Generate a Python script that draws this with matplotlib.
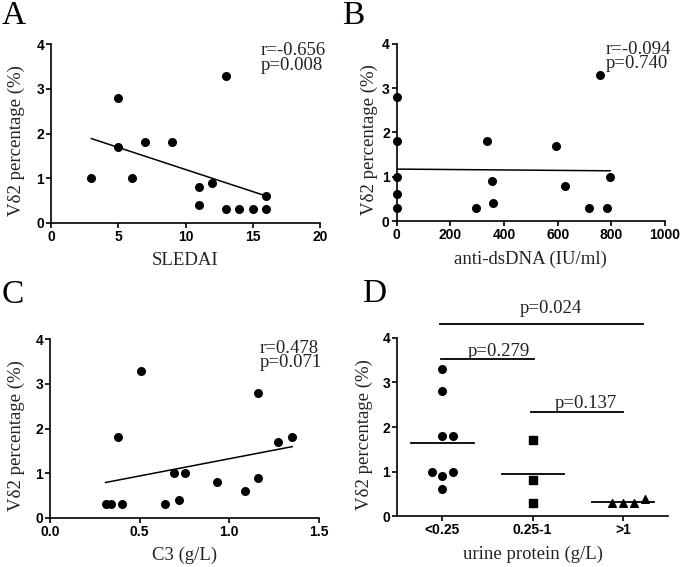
import numpy as np
import matplotlib
matplotlib.use("Agg")
from matplotlib import pyplot as plt

# panel A: SLEDAI vs Vd2 percentage
sledai = [3, 5, 5, 6, 7, 9, 11, 11, 12, 13, 13, 14, 15, 16, 16]
vd2_a = [1.0, 2.8, 1.7, 1.0, 1.8, 1.8, 0.8, 0.4, 0.9, 3.3, 0.3, 0.3, 0.3, 0.6, 0.3]

# panel B: anti-dsDNA vs Vd2 percentage
dsdna = [0, 0, 0, 0, 0, 295, 338, 357, 360, 593, 627, 715, 757, 785, 795]
vd2_b = [2.8, 1.8, 1.0, 0.6, 0.3, 0.3, 1.8, 0.9, 0.4, 1.7, 0.8, 0.3, 3.3, 0.3, 1.0]

# panel C: C3 vs Vd2 percentage
c3 = [0.31, 0.34, 0.38, 0.40, 0.51, 0.64, 0.69, 0.72, 0.75, 0.93, 1.09, 1.16, 1.16, 1.27, 1.35]
vd2_c = [0.3, 0.3, 1.8, 0.3, 3.3, 0.3, 1.0, 0.4, 1.0, 0.8, 0.6, 2.8, 0.9, 1.7, 1.8]

# panel D: urine protein groups
groups = ["<0.25", "0.25-1", ">1"]
grp_low = [3.3, 2.8, 1.8, 1.8, 1.0, 0.9, 1.0, 0.6]
grp_mid = [1.7, 0.8, 0.3]
grp_high = [0.3, 0.3, 0.3, 0.38]
stats_r = ["r=-0.656", "r=-0.094", "r=0.478"]
stats_p = ["p=0.008", "p=0.740", "p=0.071"]
pair_labels = ["p=0.024", "p=0.279", "p=0.137"]

SANS = ["Liberation Sans", "DejaVu Sans"]
SERIF = ["Liberation Serif", "DejaVu Serif"]
TXT = "#222222"

fig = plt.figure(figsize=(6.85, 5.67), dpi=100)
axA = fig.add_axes([0.0745, 0.6072, 0.3927, 0.3146])
axB = fig.add_axes([0.5791, 0.6102, 0.3917, 0.3127])
axC = fig.add_axes([0.0730, 0.0869, 0.3927, 0.3146])
axD = fig.add_axes([0.5800, 0.0899, 0.3952, 0.3140])


def style(ax, xlabel, ylab_x):
    for s in ["top", "right"]:
        ax.spines[s].set_visible(False)
    for s in ["left", "bottom"]:
        ax.spines[s].set_linewidth(1.2)
    ax.tick_params(length=3.5, width=1.2, pad=1.5)
    ax.set_ylim(0, 4)
    ax.set_yticks([0, 1, 2, 3, 4])
    ax.set_xlabel(xlabel, family=SERIF, fontsize=13.5, color=TXT, labelpad=6)
    ax.set_ylabel("V\u03b42 percentage (%)", family=SERIF, fontsize=13.5, color=TXT)
    ax.yaxis.set_label_coords(ylab_x, 0.46)


def scatter_panel(ax, x, y, xlim, xticks, xticklabels, xlabel, r, p, ty, ylab_x):
    ax.set_xlim(*xlim)
    ax.set_xticks(xticks)
    ax.set_xticklabels(xticklabels)
    ax.scatter(x, y, s=30, color="black", zorder=3, clip_on=False)
    k, b = np.polyfit(x, y, 1)
    xs = np.array([min(x), max(x)])
    ax.plot(xs, k * xs + b, color="black", lw=1.1)
    style(ax, xlabel, ylab_x)
    ax.text(0.78, ty, r + "\n" + p, transform=ax.transAxes, family=SERIF,
            fontsize=13.5, color=TXT, ha="left", va="baseline", linespacing=0.8)


scatter_panel(axA, sledai, vd2_a, (0, 20), [0, 5, 10, 15, 20],
              ["0", "5", "10", "15", "20"], "SLEDAI", stats_r[0], stats_p[0], 0.858, -0.095)
scatter_panel(axB, dsdna, vd2_b, (0, 1000), [0, 200, 400, 600, 800, 1000],
              ["0", "200", "400", "600", "800", "1000"], "anti-dsDNA (IU/ml)",
              stats_r[1], stats_p[1], 0.861, -0.07)
scatter_panel(axC, c3, vd2_c, (0, 1.5), [0, 0.5, 1.0, 1.5],
              ["0.0", "0.5", "1.0", "1.5"], "C3 (g/L)", stats_r[2], stats_p[2], 0.843, -0.093)

# panel D
offsets = [[0, 0, 0, 0.12, -0.12, 0, 0.12, 0], [0, 0, 0], [-0.12, 0, 0.12, 0.24]]
markers = ["o", "s", "^"]
for i, vals in enumerate([grp_low, grp_mid, grp_high]):
    xs = np.full(len(vals), i) + np.array(offsets[i])
    axD.scatter(xs, vals, s=30, marker=markers[i], color="black", zorder=3, clip_on=False)
    m = np.mean(vals)
    axD.plot([i - 0.345, i + 0.345], [m, m], color="black", lw=1.3)
axD.set_xlim(-0.5, 2.5)
axD.set_xticks(range(len(groups)))
axD.set_xticklabels(groups)
style(axD, "urine protein (g/L)", -0.09)
bar_x = [(-0.03, 2.22), (-0.02, 1.02), (0.985, 2.0)]
bar_y = [4.32, 3.52, 2.33]
text_x = [1.2, 0.62, 1.59]
text_y = [4.56, 3.6, 2.43]
for lab, bx, yb, tx, yt in zip(pair_labels, bar_x, bar_y, text_x, text_y):
    axD.plot(bx, [yb, yb], color="black", lw=1.3, clip_on=False)
    axD.text(tx, yt, lab, family=SERIF, fontsize=13.5, color=TXT,
             ha="center", va="baseline")

# bold sans tick labels
for ax in [axA, axB, axC, axD]:
    for lab in ax.get_xticklabels() + ax.get_yticklabels():
        lab.set_family(SANS)
        lab.set_fontweight("bold")
        lab.set_fontsize(10)

# panel letters
for lab, x, y in [("A", 0.002, 0.958), ("B", 0.500, 0.958), ("C", 0.002, 0.465), ("D", 0.529, 0.467)]:
    fig.text(x, y, lab, family=SERIF, fontsize=24, color="black",
             ha="left", va="baseline")

fig.savefig("out.png", dpi=100)
